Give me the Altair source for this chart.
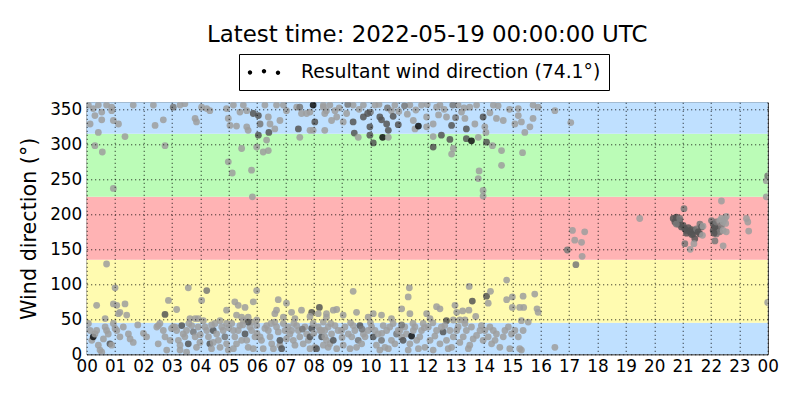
import altair as alt
import pandas as pd

TITLE = "Latest time: 2022-05-19 00:00:00 UTC"
LEGEND_LABEL = "Resultant wind direction (74.1°)"
Y_TITLE = "Wind direction (°)"

# direction sectors (background bands)
band_lo = [0, 45, 135, 225, 315]
band_hi = [45, 135, 225, 315, 360]
band_col = ["#bfe0ff", "#fffbb0", "#ffb3b4", "#bbfcb7", "#bfe0ff"]

hour_ticks = [0, 1, 2, 3, 4, 5, 6, 7, 8, 9, 10, 11, 12, 13, 14, 15, 16, 17, 18, 19, 20, 21, 22, 23, 24]
dir_ticks = [0, 50, 100, 150, 200, 250, 300, 350]

# shade code -> grey level of the observation dot
shade_colors = {0: "#9e9e9e", 1: "#787878", 2: "#555555", 3: "#111111"}

# observations: (hour of day, direction in degrees, shade code)
north_early = [
    (0.06, 356, 0), (0.23, 351, 0), (0.41, 356, 0), (0.53, 346, 0), (0.29, 341, 0), (0.12, 329, 0),
    (0.53, 335, 0), (0.70, 356, 0), (0.88, 353, 0), (0.88, 348, 0), (0.94, 334, 0), (1.12, 329, 0),
    (0.41, 317, 0), (0.29, 298, 0), (0.55, 289, 0), (0.94, 237, 0), (1.35, 311, 0), (1.64, 356, 0),
    (2.35, 356, 0), (2.76, 298, 0), (2.41, 327, 0), (2.70, 335, 0), (3.05, 353, 1), (3.29, 356, 0),
    (3.46, 358, 0), (3.82, 337, 0), (3.87, 332, 0), (4.23, 351, 0), (4.34, 348, 0), (4.05, 353, 0),
    (4.93, 351, 0), (4.99, 337, 0), (5.05, 327, 0), (5.28, 326, 0), (4.99, 275, 0), (5.13, 259, 0),
    (5.46, 294, 0), (5.17, 356, 0), (5.52, 356, 0), (5.40, 346, 0), (5.64, 348, 0), (5.64, 325, 0),
    (5.69, 320, 0), (5.81, 263, 0), (5.84, 225, 0), (5.87, 344, 2), (6.05, 341, 2), (6.11, 329, 1),
    (6.05, 313, 2), (5.99, 296, 0), (6.22, 289, 0), (6.34, 306, 0), (6.40, 291, 0), (6.28, 356, 0),
    (6.40, 339, 0), (6.46, 329, 0), (6.42, 317, 2), (6.63, 322, 0), (6.81, 334, 0), (6.69, 356, 0),
    (6.93, 356, 0), (7.04, 348, 0), (7.40, 353, 0), (7.51, 353, 1), (7.57, 344, 0), (7.75, 344, 0),
    (7.87, 346, 0), (7.98, 356, 3), (8.04, 332, 2), (7.87, 320, 0), (7.98, 320, 0), (7.46, 322, 2),
    (7.51, 310, 0), (8.45, 348, 0), (8.39, 320, 0), (8.34, 356, 0),
]

north_late = [
    (8.34, 353, 0), (8.39, 344, 0), (8.57, 356, 0), (8.75, 348, 0), (8.81, 339, 0), (8.63, 334, 0),
    (9.16, 344, 0), (9.04, 332, 0), (9.39, 356, 0), (9.39, 332, 2), (9.43, 316, 2), (9.57, 310, 0),
    (9.75, 356, 0), (9.75, 339, 2), (9.98, 325, 2), (9.98, 313, 2), (10.10, 302, 2), (10.16, 356, 0),
    (10.33, 339, 2), (10.39, 335, 2), (10.43, 310, 3), (10.57, 329, 2), (10.63, 320, 2), (10.63, 310, 0),
    (10.74, 348, 0), (10.86, 356, 0), (10.98, 328, 2), (11.39, 356, 0), (11.51, 334, 0), (11.57, 322, 0),
    (11.69, 326, 3), (11.80, 356, 0), (11.98, 339, 0), (11.98, 325, 0), (12.21, 329, 0), (12.21, 311, 0),
    (12.21, 296, 2), (12.33, 353, 0), (12.45, 356, 0), (12.50, 313, 2), (12.68, 339, 0), (12.80, 307, 2),
    (12.86, 327, 2), (12.92, 294, 0), (12.86, 286, 0), (13.09, 356, 0), (13.21, 346, 0), (13.33, 337, 0),
    (13.38, 322, 2), (13.38, 308, 2), (13.50, 353, 0), (13.56, 305, 3), (13.68, 329, 0), (13.74, 356, 0),
    (13.80, 310, 0), (13.83, 262, 0), (13.80, 251, 0), (13.97, 234, 0), (13.97, 226, 0), (13.97, 339, 2),
    (14.03, 325, 0), (14.07, 317, 0), (14.09, 303, 2), (14.21, 345, 0), (14.33, 356, 0), (14.30, 298, 0),
    (14.44, 337, 0), (14.62, 291, 0), (14.62, 270, 0), (14.68, 334, 0), (15.09, 329, 0), (15.21, 351, 0),
    (15.21, 341, 0), (15.32, 332, 0), (15.36, 288, 0), (15.44, 317, 0), (15.62, 325, 0), (15.73, 337, 0),
    (15.73, 356, 0), (15.91, 353, 0), (8.90, 352, 0), (9.20, 357, 1), (9.60, 350, 0), (10.00, 346, 1),
    (10.30, 357, 0), (10.60, 352, 1), (11.00, 347, 0), (11.20, 355, 1), (11.60, 349, 0), (12.00, 357, 0),
    (12.60, 350, 0), (12.90, 356, 1), (13.30, 352, 0), (14.50, 355, 0), (14.90, 350, 0), (9.90, 344, 2),
    (10.80, 340, 2), (11.30, 343, 0), (12.40, 342, 0), (13.00, 338, 1),
]

evening = [
    (16.50, 348, 0), (17.06, 331, 0), (17.12, 177, 0), (17.20, 163, 0), (17.44, 160, 0), (17.55, 175, 0),
    (16.94, 149, 1), (17.46, 140, 0), (17.24, 128, 1), (19.49, 194, 0), (22.37, 219, 0), (21.05, 208, 1),
    (20.67, 194, 2), (20.73, 189, 2), (20.78, 196, 2), (20.84, 186, 2), (20.90, 191, 2), (20.96, 182, 2),
    (21.02, 184, 2), (21.08, 179, 2), (21.14, 177, 2), (21.20, 181, 2), (21.26, 175, 2), (21.32, 178, 2),
    (21.37, 172, 2), (21.43, 177, 2), (21.49, 179, 1), (21.55, 175, 2), (21.61, 186, 1), (21.67, 182, 2),
    (21.72, 183, 0), (21.61, 172, 2), (21.70, 170, 0), (21.43, 165, 2), (21.14, 173, 2), (21.32, 171, 2),
    (20.90, 194, 1), (20.78, 186, 1), (21.08, 158, 1), (21.40, 158, 0), (21.27, 150, 0),
    (22.02, 191, 1), (22.08, 186, 2), (22.14, 182, 2), (22.08, 177, 2), (22.19, 189, 1), (22.25, 179, 2),
    (22.31, 191, 0), (22.37, 184, 1), (22.43, 189, 0), (22.49, 194, 0), (22.54, 197, 0), (22.52, 187, 0),
    (22.54, 175, 0), (22.31, 175, 1), (22.19, 172, 1), (22.11, 173, 2), (22.43, 177, 0), (22.37, 194, 0),
    (22.14, 162, 1), (22.43, 155, 0), (23.25, 194, 0), (23.30, 189, 0), (23.33, 176, 0), (23.95, 248, 0),
    (23.95, 225, 0), (24.00, 255, 1), (24.00, 74, 0), (16.50, 10, 0),
]

south_east = [
    (0.70, 129, 0), (1.00, 95, 0), (0.35, 70, 0), (0.94, 72, 0), (1.06, 70, 0), (1.35, 72, 0),
    (1.12, 58, 0), (1.41, 56, 0), (1.17, 60, 0), (0.65, 51, 0), (2.88, 77, 0), (3.17, 64, 0),
    (2.76, 57, 2), (3.58, 95, 0), (4.23, 91, 1), (4.05, 77, 0), (4.93, 63, 0), (5.22, 75, 0),
    (5.34, 70, 0), (5.58, 67, 0), (5.87, 75, 0), (5.99, 91, 0), (5.28, 56, 0), (5.46, 53, 0),
    (5.69, 53, 0), (5.81, 46, 0), (5.99, 49, 0), (6.75, 78, 0), (6.69, 63, 0), (6.63, 58, 0),
    (6.93, 53, 0), (7.04, 73, 0), (7.22, 60, 0), (7.57, 63, 0), (7.93, 60, 2), (8.20, 67, 2),
    (8.16, 58, 0), (8.45, 53, 0), (7.34, 51, 0), (7.87, 54, 0),
    (9.39, 90, 0), (11.37, 95, 0), (11.33, 82, 0), (11.10, 65, 0), (11.39, 58, 0), (12.33, 68, 0),
    (12.45, 65, 0), (12.98, 70, 0), (13.04, 60, 0), (13.25, 62, 0), (13.47, 63, 0), (13.48, 97, 0),
    (13.59, 76, 2), (13.71, 54, 0), (14.09, 83, 2), (14.15, 73, 0), (14.23, 90, 0), (14.80, 106, 0),
    (14.80, 78, 0), (15.00, 82, 0), (15.00, 67, 0), (15.38, 83, 0), (15.26, 67, 0), (15.40, 67, 0),
    (15.79, 86, 0), (15.87, 65, 0), (15.91, 60, 0), (15.32, 48, 0), (15.56, 46, 0), (11.98, 58, 0),
    (12.10, 51, 0), (12.68, 48, 2), (12.92, 49, 0), (13.15, 49, 0), (13.33, 49, 0), (9.51, 60, 0),
    (8.81, 64, 0), (8.45, 58, 0), (8.69, 63, 0), (10.74, 51, 0), (10.10, 58, 0), (10.39, 56, 0),
    (9.04, 56, 0), (9.92, 53, 0),
]

north_east_morning = [
    (0.06, 44, 0), (0.12, 34, 0), (0.18, 20, 0), (0.23, 25, 3), (0.35, 34, 0), (0.41, 13, 0),
    (0.47, 6, 0), (0.59, 22, 0), (0.65, 39, 0), (0.70, 34, 0), (0.76, 29, 0), (0.82, 15, 2),
    (0.88, 13, 0), (0.94, 44, 0), (1.00, 37, 0), (1.06, 34, 0), (0.53, 3, 0), (0.29, 29, 0),
    (1.47, 29, 0), (1.53, 22, 0), (1.64, 17, 0), (2.11, 25, 0), (2.47, 39, 0), (2.52, 41, 0),
    (2.58, 44, 0), (1.17, 25, 0), (1.29, 39, 0), (2.70, 34, 0), (2.52, 15, 0), (2.76, 25, 0),
    (2.82, 6, 0), (2.94, 20, 0), (2.99, 37, 0), (3.05, 39, 0),
    (3.11, 39, 0), (3.17, 34, 0), (3.23, 20, 0), (3.29, 13, 0), (3.35, 41, 2), (3.40, 29, 0),
    (3.46, 25, 0), (3.52, 34, 0), (3.58, 15, 2), (3.64, 51, 0), (3.70, 41, 0), (3.76, 32, 1),
    (3.82, 25, 0), (3.87, 10, 0), (3.93, 39, 0), (3.99, 17, 0), (3.29, 6, 0), (3.52, 3, 0),
    (3.82, 51, 0), (3.93, 51, 0),
    (4.11, 48, 0), (4.17, 39, 0), (4.23, 34, 0), (4.29, 25, 0), (4.34, 15, 2), (4.40, 8, 0),
    (4.46, 34, 2), (4.52, 44, 0), (4.58, 29, 0), (4.64, 20, 0), (4.70, 10, 0), (4.76, 39, 0),
    (4.81, 34, 0), (4.87, 25, 1), (4.93, 15, 0), (4.99, 6, 0), (4.46, 17, 0), (4.70, 48, 0),
    (4.93, 44, 0),
    (5.11, 44, 0), (5.17, 34, 0), (5.22, 25, 0), (5.28, 15, 0), (5.34, 34, 0), (5.40, 41, 0),
    (5.52, 48, 0), (5.58, 29, 2), (5.64, 20, 0), (5.69, 10, 0), (5.75, 39, 0), (5.81, 34, 0),
    (5.87, 8, 0), (5.93, 25, 0), (5.99, 41, 0), (5.17, 8, 0), (5.46, 20, 0), (5.69, 46, 2),
    (6.11, 25, 0), (6.16, 20, 0), (6.28, 37, 0), (6.34, 41, 0), (6.40, 34, 0), (6.46, 25, 0),
    (6.52, 15, 0), (6.58, 8, 0), (6.63, 46, 0), (6.69, 39, 0), (6.75, 32, 0), (6.81, 13, 0),
    (6.87, 8, 2), (6.93, 44, 0), (6.99, 34, 0), (7.04, 22, 0), (6.22, 8, 0), (6.81, 20, 2),
    (7.10, 39, 0), (7.16, 29, 0), (7.22, 34, 0), (7.28, 20, 0), (7.34, 13, 0), (7.40, 41, 0),
    (7.46, 34, 0), (7.51, 25, 0), (7.63, 15, 0), (7.69, 39, 0), (7.75, 29, 0), (7.81, 20, 0),
    (7.87, 8, 0), (7.93, 37, 2), (7.98, 44, 0), (8.04, 10, 0), (8.10, 8, 2), (7.87, 25, 2),
    (8.16, 39, 0), (8.22, 34, 0), (8.28, 25, 2), (8.39, 34, 0), (8.45, 20, 0), (8.51, 10, 0),
    (8.34, 46, 0), (3.60, 44, 0), (4.00, 28, 0), (4.40, 42, 0), (5.00, 38, 0), (5.50, 42, 0),
    (6.00, 30, 0), (6.50, 44, 0), (2.00, 30, 0), (1.80, 42, 0), (7.30, 44, 0), (7.60, 36, 1),
    (8.00, 30, 0),
]

north_east_midday = [
    (8.28, 34, 0), (8.39, 25, 0), (8.51, 39, 0), (8.63, 29, 0), (8.75, 41, 0), (8.86, 34, 0),
    (8.34, 13, 0), (8.57, 15, 0), (8.81, 8, 0), (8.69, 20, 2),
    (8.98, 34, 0), (9.10, 39, 0), (9.22, 29, 0), (9.34, 25, 0), (9.45, 34, 0), (9.57, 20, 1),
    (9.69, 15, 0), (9.81, 25, 0), (9.92, 34, 0), (9.04, 13, 0), (9.28, 8, 0), (9.51, 10, 0),
    (9.75, 29, 0), (9.39, 41, 0), (9.63, 41, 2),
    (10.04, 39, 0), (10.10, 25, 2), (10.16, 34, 0), (10.27, 29, 0), (10.39, 20, 1), (10.51, 10, 0),
    (10.57, 34, 0), (10.68, 39, 0), (10.74, 20, 0), (10.86, 15, 0), (10.92, 29, 1), (10.21, 13, 0),
    (10.33, 6, 0), (10.63, 8, 0), (10.98, 34, 0), (10.45, 41, 0),
    (11.04, 34, 0), (11.10, 25, 0), (11.15, 20, 2), (11.21, 39, 0), (11.27, 29, 0), (11.39, 15, 0),
    (11.45, 26, 3), (11.51, 34, 0), (11.63, 20, 0), (11.69, 8, 0), (11.74, 25, 0), (11.80, 34, 0),
    (11.86, 44, 0), (11.92, 10, 0), (11.33, 6, 0), (11.57, 39, 0),
    (12.04, 39, 0), (12.10, 20, 0), (12.27, 26, 0), (12.33, 34, 0), (12.45, 15, 0), (12.56, 32, 2),
    (12.62, 41, 0), (12.68, 20, 0), (12.80, 34, 0), (12.86, 10, 0), (12.92, 25, 0), (12.21, 6, 0),
    (12.74, 8, 0), (12.50, 39, 0),
    (13.04, 34, 0), (13.09, 39, 0), (13.15, 17, 0), (13.27, 25, 0), (13.38, 34, 0), (13.45, 8, 0),
    (13.50, 13, 0), (13.56, 39, 0), (13.62, 22, 0), (13.74, 27, 0), (13.86, 34, 0), (13.91, 41, 0),
    (13.97, 20, 0), (13.33, 44, 0),
    (14.03, 34, 0), (14.15, 25, 0), (14.21, 39, 0), (14.27, 15, 0), (14.33, 34, 0), (14.44, 29, 0),
    (14.56, 10, 0), (14.68, 25, 0), (14.74, 34, 0), (14.91, 8, 0), (14.97, 29, 0), (14.39, 20, 0),
    (14.86, 39, 0), (15.09, 34, 0), (15.21, 25, 0), (15.26, 8, 0), (15.32, 6, 0), (15.38, 34, 0),
    (8.60, 44, 0), (9.00, 24, 0), (9.30, 45, 0), (9.70, 36, 1), (10.00, 45, 0), (10.40, 30, 0),
    (10.80, 44, 0), (11.10, 42, 1), (11.50, 44, 0), (11.90, 38, 0), (12.20, 45, 0),
]

# legend handle: three dots, like a scatter legend entry
DOTS_PATH = (
    "M-0.92,0.05 a0.22,0.22 0 1,0 0.44,0 a0.22,0.22 0 1,0 -0.44,0 Z "
    "M0.48,-0.08 a0.22,0.22 0 1,0 0.44,0 a0.22,0.22 0 1,0 -0.44,0 Z "
    "M1.88,0.08 a0.22,0.22 0 1,0 0.44,0 a0.22,0.22 0 1,0 -0.44,0 Z"
)

FONT = "DejaVu Sans"
W, H = 681, 252

rows = north_early + north_late + evening + south_east + north_east_morning + north_east_midday
pts = pd.DataFrame(rows, columns=["hour", "direction", "shade"])
pts["col"] = pts["shade"].map(shade_colors)

bands = pd.DataFrame({"lo": band_lo, "hi": band_hi, "col": band_col})
legend_df = pd.DataFrame({"hour": [0.0], "direction": [0.0], "label": [LEGEND_LABEL]})

x_scale = alt.Scale(domain=[0, 24], nice=False, zero=False)
y_scale = alt.Scale(domain=[0, 360], nice=False)

grid_kw = dict(grid=True, gridColor="black", gridDash=[1, 3], gridWidth=0.9, gridOpacity=1,
               ticks=False, domain=False, labelFont=FONT, labelFontSize=16.8, labelColor="black",
               labelFlush=False, labelOverlap=False, zindex=1)

# tickCount must not be below the number of values, or Vega thins them out
x_axis = alt.Axis(values=hour_ticks, tickCount=40, title=None,
                  labelExpr="format(datum.value % 24, '02d')", labelPadding=4, **grid_kw)
y_axis = alt.Axis(values=dir_ticks, tickCount=20, title=Y_TITLE, labelPadding=5, titlePadding=10,
                  titleFont=FONT, titleFontSize=20.7, titleFontWeight="normal", titleColor="black",
                  **grid_kw)

band_layer = alt.Chart(bands).mark_rect().encode(
    x=alt.datum(0),
    x2=alt.datum(24),
    y=alt.Y("lo:Q"),
    y2="hi:Q",
    fill=alt.Fill("col:N", scale=None),
)

point_layer = alt.Chart(pts).mark_circle(size=46, opacity=0.85, clip=True).encode(
    x=alt.X("hour:Q", scale=x_scale, axis=x_axis),
    y=alt.Y("direction:Q", scale=y_scale, axis=y_axis),
    color=alt.Color("col:N", scale=None),
)

legend_layer = alt.Chart(legend_df).mark_point(filled=True, opacity=0, color="black", size=400).encode(
    x=alt.X("hour:Q"),
    y=alt.Y("direction:Q"),
    shape=alt.Shape(
        "label:N",
        scale=alt.Scale(domain=[LEGEND_LABEL], range=[DOTS_PATH]),
        legend=alt.Legend(
            title=None, orient="none", legendX=152.3, legendY=-48.3, padding=8,
            strokeColor="black", fillColor="white", cornerRadius=0,
            labelFont=FONT, labelFontSize=18.8, labelColor="black", labelLimit=600,
            labelOffset=34, symbolSize=400, symbolStrokeWidth=0, symbolFillColor="black",
            symbolOpacity=1,
        ),
    ),
)

chart = alt.layer(band_layer, point_layer, legend_layer).properties(
    width=W,
    height=H,
    autosize=alt.AutoSizeParams(type="none"),
    padding={"left": 78.7, "top": 94.3, "right": 24.3, "bottom": 37.7},
    title=alt.Title(TITLE, font=FONT, fontSize=22.9, fontWeight="normal", color="black",
                    anchor="middle", frame="group", offset=7),
).configure(
    font=FONT, background="white"
).configure_view(
    stroke="black", strokeWidth=1
)

chart.save("out.html", embed_options={"renderer": "svg", "actions": False})
